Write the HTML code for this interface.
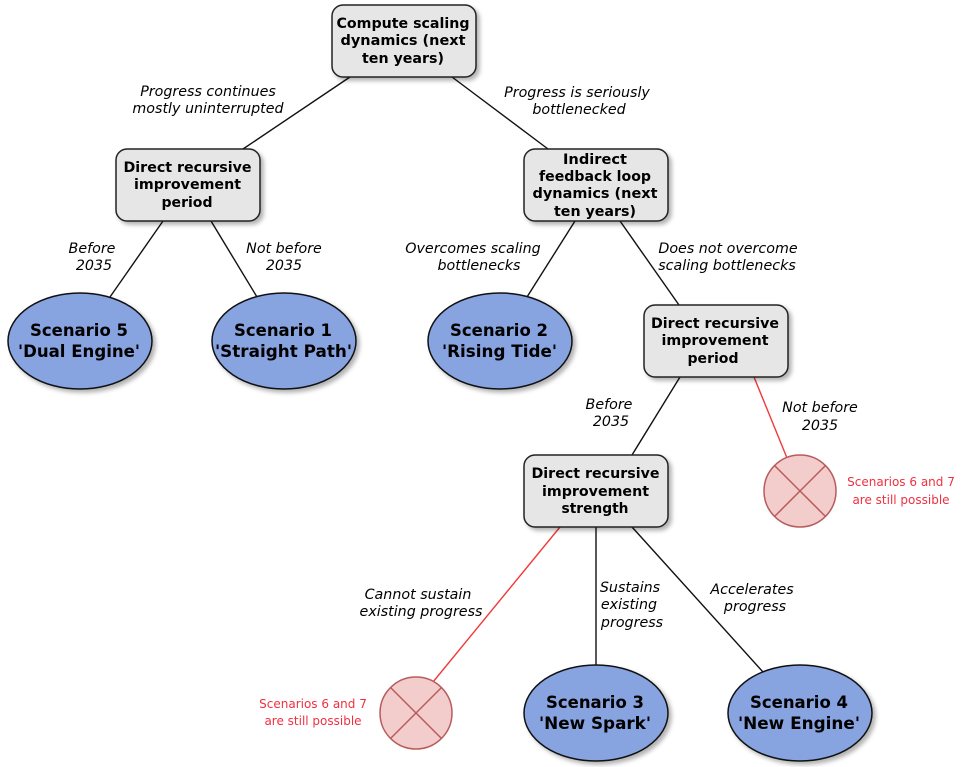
<!DOCTYPE html>
<html><head><meta charset="utf-8">
<style>
html,body{margin:0;padding:0;background:#fff;width:972px;height:767px;overflow:hidden}
svg{display:block}
text{font-family:"DejaVu Sans","Liberation Sans",sans-serif;text-anchor:middle;fill:#000}
.b{font-weight:bold;font-size:14.4px}
.s{font-weight:bold;font-size:16.6px}
.i{font-style:italic;font-size:14.25px}
.r{font-size:12px;fill:#f03040}
.n{fill:#e6e6e6;stroke:#222;stroke-width:1.5}
.e{fill:#87a3e0;stroke:#111;stroke-width:1.5}
.x{fill:#f3cccc;stroke:#b85c5c;stroke-width:1.5}
.l{stroke:#111;stroke-width:1.4;fill:none}
.lr{stroke:#f03a3a;stroke-width:1.4;fill:none}
.sh{filter:drop-shadow(3px 3px 2px rgba(0,0,0,.3))}
</style></head><body>
<svg width="972" height="767" viewBox="0 0 972 767" xmlns="http://www.w3.org/2000/svg">
<line class="l" x1="350" y1="77" x2="243" y2="149"/>
<line class="l" x1="452" y1="77" x2="548" y2="149"/>
<line class="l" x1="163" y1="221" x2="110" y2="297"/>
<line class="l" x1="211" y1="221" x2="257" y2="297"/>
<line class="l" x1="575" y1="221" x2="527" y2="297"/>
<line class="l" x1="620" y1="221" x2="679" y2="305"/>
<line class="l" x1="680" y1="377" x2="632" y2="455"/>
<line class="lr" x1="754" y1="377" x2="787" y2="458"/>
<line class="lr" x1="560" y1="527" x2="433" y2="682"/>
<line class="l" x1="596" y1="527" x2="596" y2="665"/>
<line class="l" x1="632" y1="527" x2="763" y2="672"/>

<g class="sh">
<rect class="n" x="332" y="5" width="144" height="72" rx="11"/>
<rect class="n" x="116" y="149" width="144" height="72" rx="11"/>
<rect class="n" x="524" y="149" width="144" height="72" rx="11"/>
<rect class="n" x="644" y="305" width="144" height="72" rx="11"/>
<rect class="n" x="524" y="455" width="144" height="72" rx="11"/>
<ellipse class="e" cx="80" cy="341" rx="72" ry="48"/>
<ellipse class="e" cx="284" cy="341" rx="72" ry="48"/>
<ellipse class="e" cx="500" cy="341" rx="72" ry="48"/>
<ellipse class="e" cx="596" cy="713" rx="72" ry="48"/>
<ellipse class="e" cx="800" cy="713" rx="72" ry="48"/>
</g>

<circle class="x" cx="800" cy="491" r="36"/>
<line class="x" x1="774.5" y1="465.5" x2="825.5" y2="516.5"/>
<line class="x" x1="825.5" y1="465.5" x2="774.5" y2="516.5"/>
<circle class="x" cx="416" cy="713" r="36"/>
<line class="x" x1="390.5" y1="687.5" x2="441.5" y2="738.5"/>
<line class="x" x1="441.5" y1="687.5" x2="390.5" y2="738.5"/>

<text class="b" x="403" y="28" textLength="133" lengthAdjust="spacingAndGlyphs">Compute scaling</text>
<text class="b" x="403" y="45" textLength="125" lengthAdjust="spacingAndGlyphs">dynamics (next</text>
<text class="b" x="403" y="63" textLength="82" lengthAdjust="spacingAndGlyphs">ten years)</text>

<text class="b" x="187.5" y="172" textLength="128" lengthAdjust="spacingAndGlyphs">Direct recursive</text>
<text class="b" x="187.5" y="189" textLength="107" lengthAdjust="spacingAndGlyphs">improvement</text>
<text class="b" x="187" y="207" textLength="51" lengthAdjust="spacingAndGlyphs">period</text>

<text class="b" x="595" y="164" textLength="64" lengthAdjust="spacingAndGlyphs">Indirect</text>
<text class="b" x="595" y="181" textLength="112" lengthAdjust="spacingAndGlyphs">feedback loop</text>
<text class="b" x="595" y="198" textLength="125" lengthAdjust="spacingAndGlyphs">dynamics (next</text>
<text class="b" x="595" y="216" textLength="82" lengthAdjust="spacingAndGlyphs">ten years)</text>

<text class="b" x="715" y="328" textLength="128" lengthAdjust="spacingAndGlyphs">Direct recursive</text>
<text class="b" x="715" y="345" textLength="107" lengthAdjust="spacingAndGlyphs">improvement</text>
<text class="b" x="713" y="363" textLength="51" lengthAdjust="spacingAndGlyphs">period</text>

<text class="b" x="595.5" y="478" textLength="128" lengthAdjust="spacingAndGlyphs">Direct recursive</text>
<text class="b" x="595.5" y="496" textLength="107" lengthAdjust="spacingAndGlyphs">improvement</text>
<text class="b" x="595" y="513" textLength="67" lengthAdjust="spacingAndGlyphs">strength</text>

<text class="s" x="79" y="336" textLength="98" lengthAdjust="spacingAndGlyphs">Scenario 5</text>
<text class="s" x="79" y="357" textLength="122" lengthAdjust="spacingAndGlyphs">'Dual Engine'</text>
<text class="s" x="283" y="336" textLength="98" lengthAdjust="spacingAndGlyphs">Scenario 1</text>
<text class="s" x="283.5" y="357" textLength="137" lengthAdjust="spacingAndGlyphs">'Straight Path'</text>
<text class="s" x="499" y="336" textLength="98" lengthAdjust="spacingAndGlyphs">Scenario 2</text>
<text class="s" x="499.5" y="357" textLength="115" lengthAdjust="spacingAndGlyphs">'Rising Tide'</text>
<text class="s" x="595" y="708" textLength="98" lengthAdjust="spacingAndGlyphs">Scenario 3</text>
<text class="s" x="595" y="729" textLength="112" lengthAdjust="spacingAndGlyphs">'New Spark'</text>
<text class="s" x="799" y="708" textLength="98" lengthAdjust="spacingAndGlyphs">Scenario 4</text>
<text class="s" x="799" y="729" textLength="122" lengthAdjust="spacingAndGlyphs">'New Engine'</text>

<text class="i" x="208" y="96">Progress continues</text>
<text class="i" x="208" y="113">mostly uninterrupted</text>
<text class="i" x="577" y="97">Progress is seriously</text>
<text class="i" x="579" y="114">bottlenecked</text>
<text class="i" x="92" y="253">Before</text>
<text class="i" x="94" y="270">2035</text>
<text class="i" x="284" y="253">Not before</text>
<text class="i" x="284" y="270">2035</text>
<text class="i" x="473" y="253">Overcomes scaling</text>
<text class="i" x="479" y="270">bottlenecks</text>
<text class="i" x="728" y="253">Does not overcome</text>
<text class="i" x="727" y="270">scaling bottlenecks</text>
<text class="i" x="609" y="409">Before</text>
<text class="i" x="611" y="426">2035</text>
<text class="i" x="820" y="412">Not before</text>
<text class="i" x="820" y="430">2035</text>
<text class="i" x="418" y="599">Cannot sustain</text>
<text class="i" x="421" y="616">existing progress</text>
<text class="i" x="630" y="592">Sustains</text>
<text class="i" x="629" y="609">existing</text>
<text class="i" x="632" y="627">progress</text>
<text class="i" x="752" y="594">Accelerates</text>
<text class="i" x="755" y="611">progress</text>

<text class="r" x="901" y="486">Scenarios 6 and 7</text>
<text class="r" x="901" y="504">are still possible</text>
<text class="r" x="313" y="708">Scenarios 6 and 7</text>
<text class="r" x="313" y="725">are still possible</text>
</svg>
</body></html>
